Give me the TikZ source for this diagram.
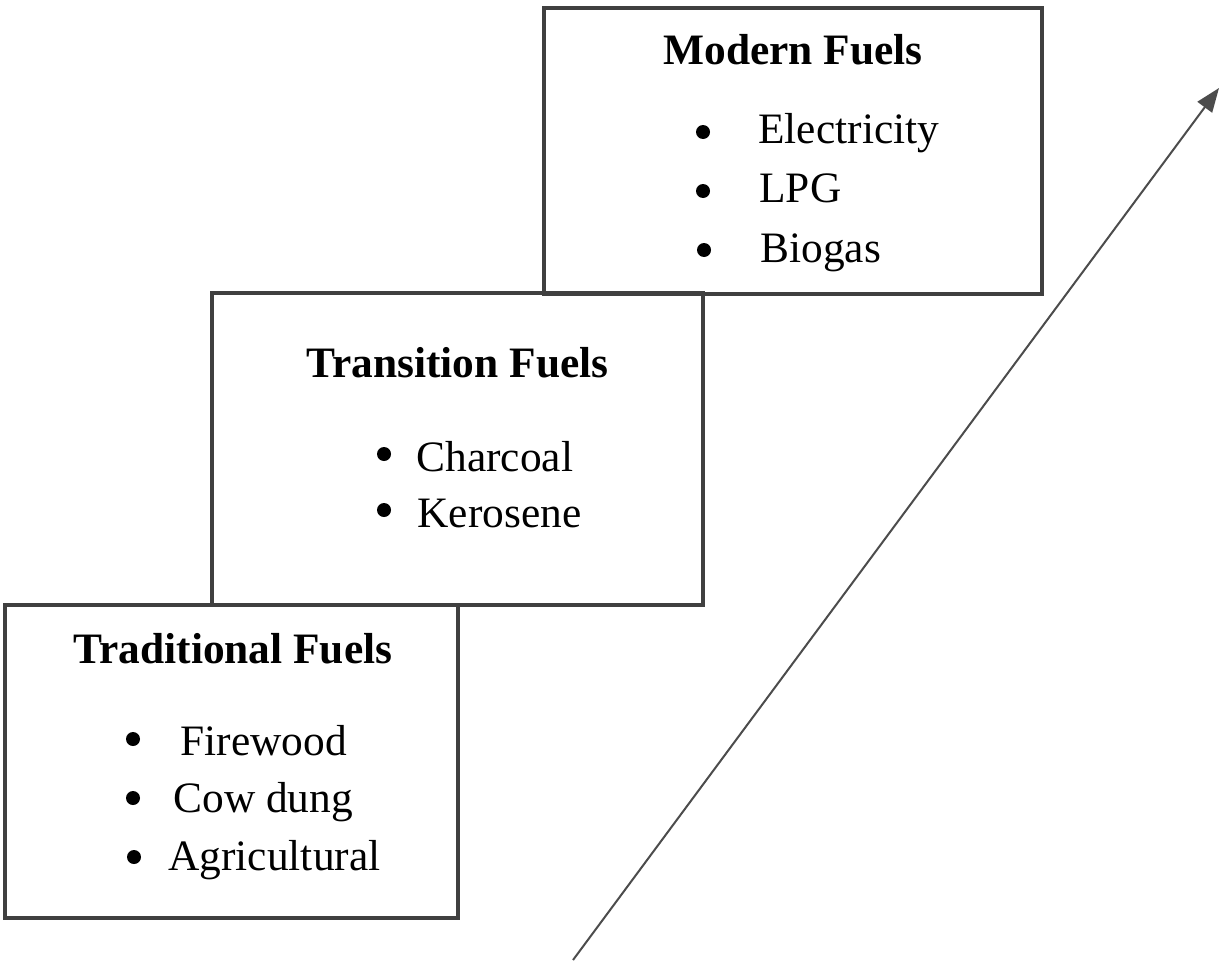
\documentclass[tikz,border=0pt]{standalone}
\usepackage{fontspec}
\setmainfont{Liberation Serif}
\usetikzlibrary{arrows.meta}

\tikzset{
  fuelbox/.style={draw=black!75, line width=1.7pt, inner sep=0pt},
  boxtitle/.style={font=\fontsize{21.7}{26}\selectfont\bfseries, inner sep=0pt, anchor=base},
  fuelitem/.style={font=\fontsize{21.7}{26}\selectfont, inner sep=0pt, anchor=base west},
  fueldot/.style={circle, fill=black, inner sep=0pt, minimum size=7pt},
}

\begin{document}
\begin{tikzpicture}[x=0.5pt, y=-0.5pt]
    \useasboundingbox (0,0) rectangle (1230,963);

    \node[fuelbox, minimum width=249pt, minimum height=143pt] (modern) at (793,151) {};
    \node[fuelbox, minimum width=245.5pt, minimum height=156pt] (transition) at (457.5,449) {};
    \node[fuelbox, minimum width=226.5pt, minimum height=156.5pt] (traditional) at (231.5,761.5) {};

    \node[boxtitle] (modernT) at (793,65) {Modern Fuels};
    \node[fueldot] (m1) at (703,132) {};
    \node[fueldot] (m2) at (703,191) {};
    \node[fueldot] (m3) at (704,250) {};
    \node[fuelitem] (elec) at (758,143) {Electricity};
    \node[fuelitem] (lpg) at (759,202) {LPG};
    \node[fuelitem] (biogas) at (760,262) {Biogas};

    \node[boxtitle] (transitionT) at (457.5,377) {Transition Fuels};
    \node[fueldot] (t1) at (384,454) {};
    \node[fueldot] (t2) at (384,510) {};
    \node[fuelitem] (charcoal) at (416,471) {Charcoal};
    \node[fuelitem] (kerosene) at (417,527) {Kerosene};

    \node[boxtitle] (traditionalT) at (233,663) {Traditional Fuels};
    \node[fueldot] (f1) at (133,739) {};
    \node[fueldot] (f2) at (133,798) {};
    \node[fueldot] (f3) at (134,857) {};
    \node[fuelitem] (firewood) at (180,755) {Firewood};
    \node[fuelitem] (cowdung) at (173,812) {Cow dung};
    \node[fuelitem] (agri) at (168,870) {Agricultural};

    \coordinate (arrowtail) at (573,960);
    \coordinate (arrowtip) at (1219,88);
    \draw[draw=black!70, line width=1pt, -{Triangle[length=12pt, width=9pt]}] (arrowtail) -- (arrowtip);

    \end{tikzpicture}
\end{document}
